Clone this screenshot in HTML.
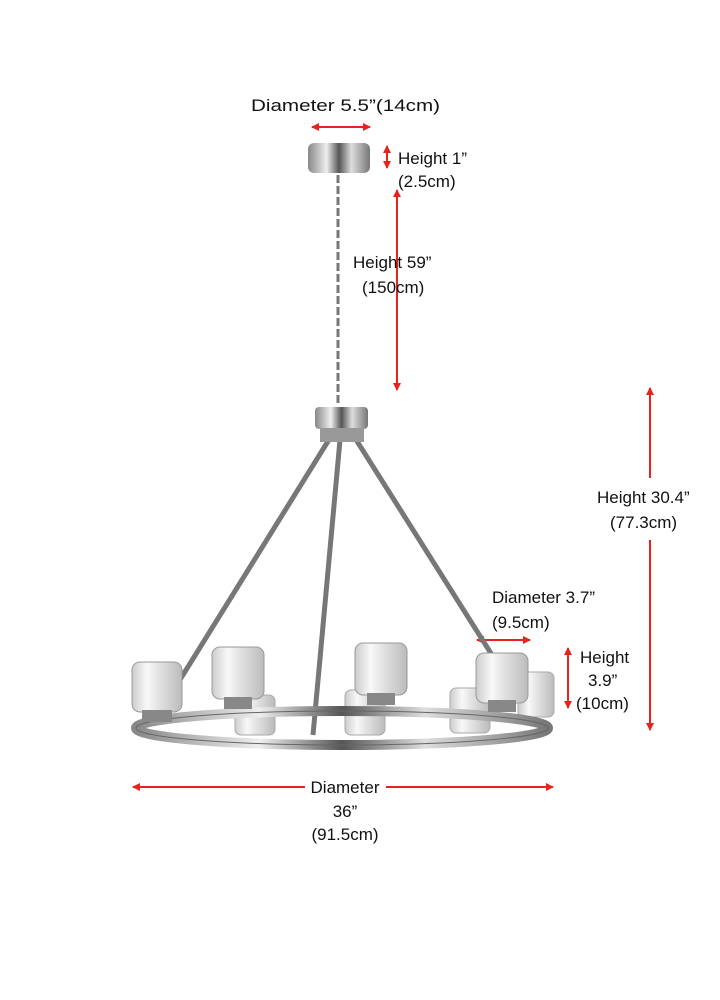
<!DOCTYPE html>
<html><head><meta charset="utf-8"><style>
body{margin:0;background:#fff;}
svg{display:block;font-family:"Liberation Sans",sans-serif;}
text{font-size:17px;fill:#111;}
</style></head><body>
<svg width="720" height="1000" viewBox="0 0 720 1000">
<defs>
<marker id="a" markerWidth="8" markerHeight="8" refX="7" refY="4" orient="auto-start-reverse" markerUnits="userSpaceOnUse"><path d="M0,0L8,4L0,8z" fill="#e8221c"/></marker>
<linearGradient id="chrome" x1="0" x2="1"><stop offset="0" stop-color="#888"/><stop offset=".3" stop-color="#eee"/><stop offset=".5" stop-color="#555"/><stop offset=".7" stop-color="#ddd"/><stop offset="1" stop-color="#777"/></linearGradient>
<linearGradient id="glass" x1="0" x2="1"><stop offset="0" stop-color="#ccc"/><stop offset=".3" stop-color="#f8f8f8"/><stop offset=".6" stop-color="#ddd"/><stop offset="1" stop-color="#bbb"/></linearGradient>
</defs>
<g stroke="#e8221c" stroke-width="2" fill="none">
<line x1="312" y1="127" x2="370" y2="127" marker-start="url(#a)" marker-end="url(#a)"/>
<line x1="387" y1="146" x2="387" y2="168" marker-start="url(#a)" marker-end="url(#a)"/>
<line x1="397" y1="190" x2="397" y2="390" marker-start="url(#a)" marker-end="url(#a)"/>
<line x1="650" y1="388" x2="650" y2="478" marker-start="url(#a)"/>
<line x1="650" y1="540" x2="650" y2="730" marker-end="url(#a)"/>
<line x1="477" y1="640" x2="530" y2="640" marker-start="url(#a)" marker-end="url(#a)"/>
<line x1="568" y1="648" x2="568" y2="708" marker-start="url(#a)" marker-end="url(#a)"/>
<line x1="133" y1="787" x2="305" y2="787" marker-start="url(#a)"/>
<line x1="386" y1="787" x2="553" y2="787" marker-end="url(#a)"/>
</g>
<text x="251" y="111" textLength="189" lengthAdjust="spacingAndGlyphs">Diameter 5.5”(14cm)</text>
<text x="398" y="164">Height 1”</text>
<text x="398" y="187">(2.5cm)</text>
<text x="353" y="268">Height 59”</text>
<text x="362" y="293">(150cm)</text>
<text x="597" y="503">Height 30.4”</text>
<text x="610" y="528">(77.3cm)</text>
<text x="492" y="603">Diameter 3.7”</text>
<text x="492" y="628">(9.5cm)</text>
<text x="580" y="663">Height</text>
<text x="588" y="686">3.9”</text>
<text x="576" y="709">(10cm)</text>
<text x="345" y="793" text-anchor="middle">Diameter</text>
<text x="345" y="817" text-anchor="middle">36”</text>
<text x="345" y="840" text-anchor="middle">(91.5cm)</text>
<rect x="308" y="143" width="62" height="30" rx="6" fill="url(#chrome)"/>
<line x1="338" y1="175" x2="338" y2="405" stroke="#777" stroke-width="3" stroke-dasharray="8,3"/>
<g stroke="#777" stroke-width="5">
<line x1="330" y1="438" x2="155" y2="720"/>
<line x1="340" y1="440" x2="313" y2="735"/>
<line x1="355" y1="438" x2="492" y2="655"/>
</g>
<rect x="315" y="407" width="53" height="22" rx="4" fill="url(#chrome)"/>
<rect x="320" y="428" width="44" height="14" fill="#999"/>
<g>
<rect x="235" y="695" width="40" height="40" rx="6" fill="url(#glass)" stroke="#aaa"/>
<rect x="345" y="690" width="40" height="45" rx="6" fill="url(#glass)" stroke="#aaa"/>
<rect x="450" y="688" width="40" height="45" rx="6" fill="url(#glass)" stroke="#aaa"/>
<rect x="518" y="672" width="36" height="45" rx="6" fill="url(#glass)" stroke="#aaa"/>
</g>
<ellipse cx="342" cy="728" rx="206" ry="17" fill="none" stroke="url(#chrome)" stroke-width="10"/>
<ellipse cx="342" cy="728" rx="206" ry="17" fill="none" stroke="#666" stroke-width="1"/>
<g>
<rect x="132" y="662" width="50" height="50" rx="8" fill="url(#glass)" stroke="#999"/>
<rect x="142" y="710" width="30" height="12" fill="#888"/>
<rect x="212" y="647" width="52" height="52" rx="8" fill="url(#glass)" stroke="#999"/>
<rect x="224" y="697" width="28" height="12" fill="#888"/>
<rect x="355" y="643" width="52" height="52" rx="8" fill="url(#glass)" stroke="#999"/>
<rect x="367" y="693" width="28" height="12" fill="#888"/>
<rect x="476" y="653" width="52" height="50" rx="8" fill="url(#glass)" stroke="#999"/>
<rect x="488" y="700" width="28" height="12" fill="#888"/>
</g>
</svg>
</body></html>
